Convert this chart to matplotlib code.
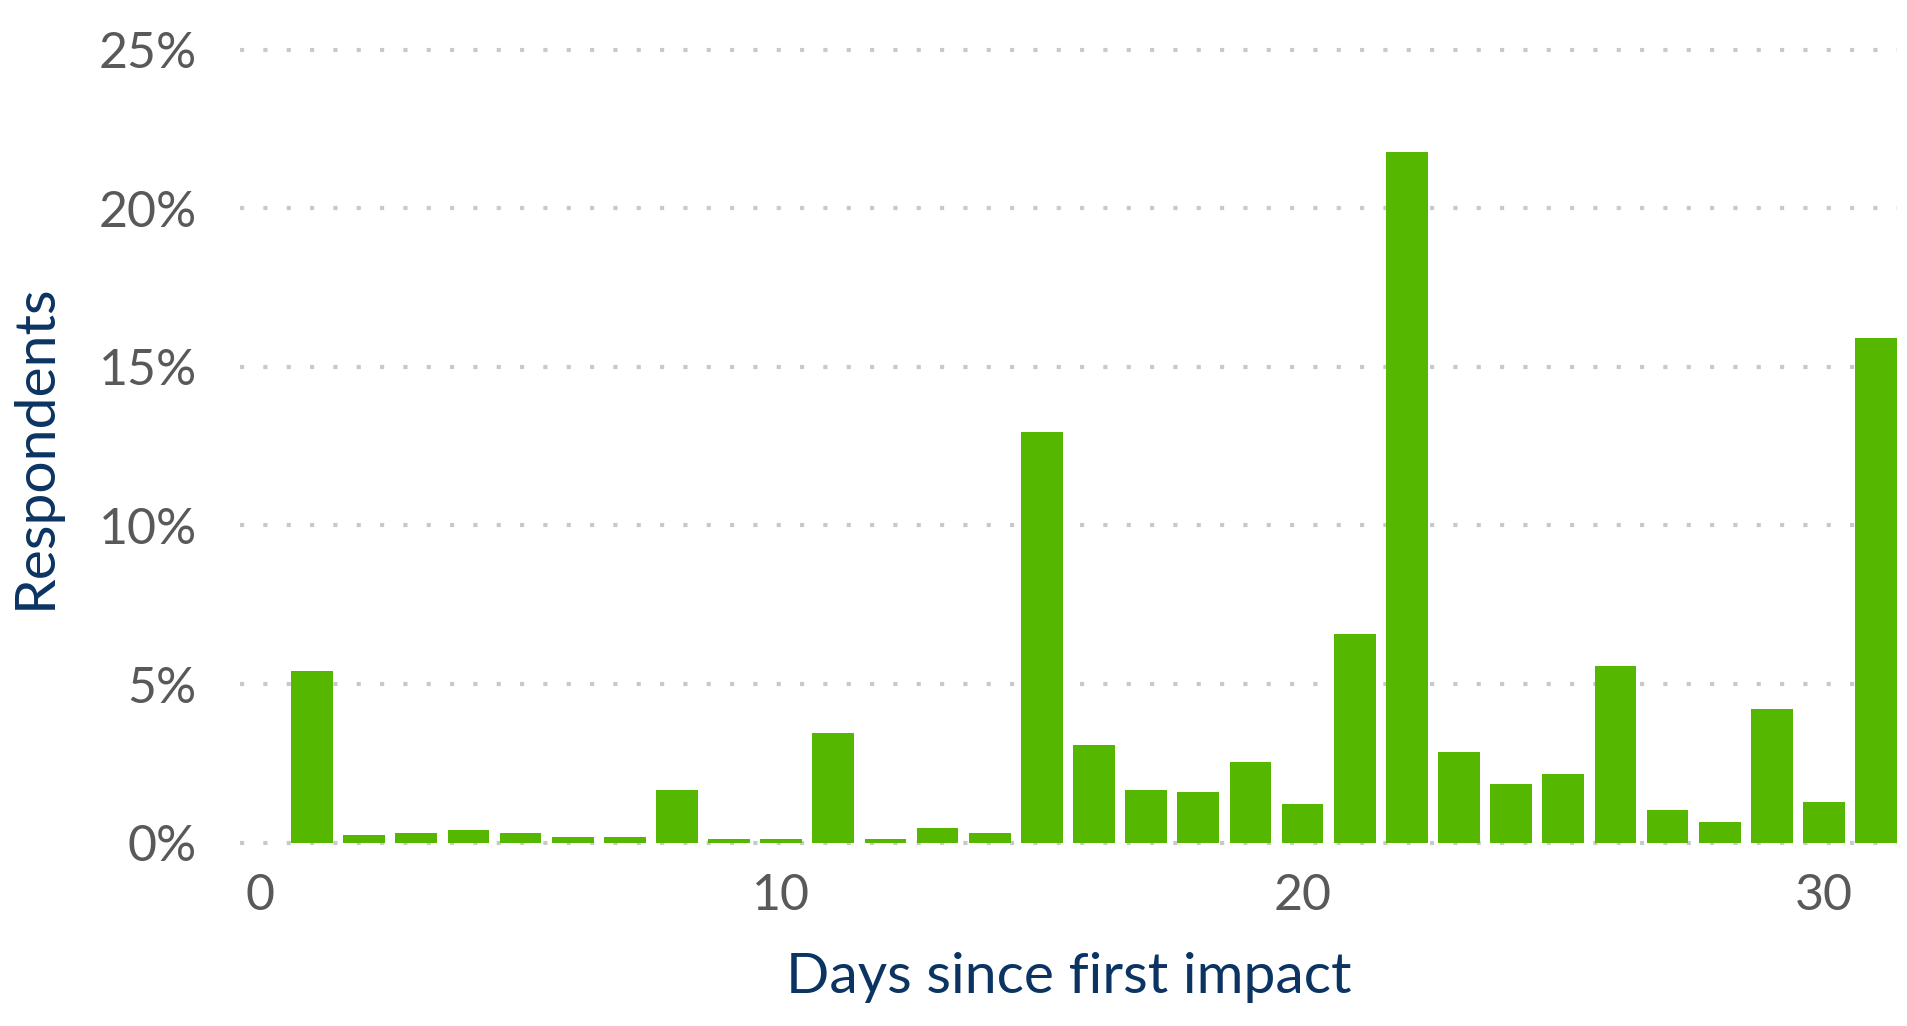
import matplotlib
matplotlib.use("Agg")
import matplotlib.pyplot as plt
from matplotlib.ticker import FuncFormatter

# Share of respondents (%) by number of days since first impact
days = list(range(1, 32))
share = [5.41, 0.24, 0.31, 0.40, 0.31, 0.18, 0.18, 1.66, 0.12, 0.12,
         3.46, 0.12, 0.46, 0.30, 12.95, 3.08, 1.66, 1.60, 2.54, 1.22,
         6.58, 21.77, 2.86, 1.85, 2.17, 5.57, 1.03, 0.65, 4.21, 1.28,
         15.92]
y_ticks = [0, 5, 10, 15, 20, 25]
x_ticks = [0, 10, 20, 30]

BAR = "#55B700"
TICK = "#595959"
NAVY = "#0B3463"
GRID = "#C9C9C9"

plt.rcParams["font.family"] = ["Lato", "DejaVu Sans"]

fig = plt.figure(figsize=(19.08, 10.26), dpi=100)
ax = fig.add_axes([0.1258, 0.1787, 0.8684, 0.7729])

ax.bar(days, share, width=0.8, color=BAR, zorder=3)

ax.set_xlim(-0.38, 31.4)
ax.set_ylim(0, 25)
ax.set_yticks(y_ticks)
ax.set_xticks(x_ticks)
ax.yaxis.set_major_formatter(FuncFormatter(lambda v, p: f"{v:.0f}%"))

ax.set_axisbelow(True)
ax.grid(axis="y", color=GRID, linewidth=3.0, linestyle=(0, (1, 4.6)),
        dash_capstyle="butt")
for gl in ax.get_ygridlines():
    gl.set_clip_on(False)
ax.grid(axis="x", visible=False)

for s in ax.spines.values():
    s.set_visible(False)

ax.tick_params(axis="both", length=0, labelsize=36, labelcolor=TICK)
ax.tick_params(axis="y", pad=31)
ax.tick_params(axis="x", pad=22)

ax.set_xlabel("Days since first impact", fontsize=41, color=NAVY)
ax.set_ylabel("Respondents", fontsize=41, color=NAVY)
ax.xaxis.set_label_coords(0.5, -0.138)
ax.yaxis.set_label_coords(-0.108, 0.5)

fig.savefig("out.png", dpi=100, facecolor="white")
